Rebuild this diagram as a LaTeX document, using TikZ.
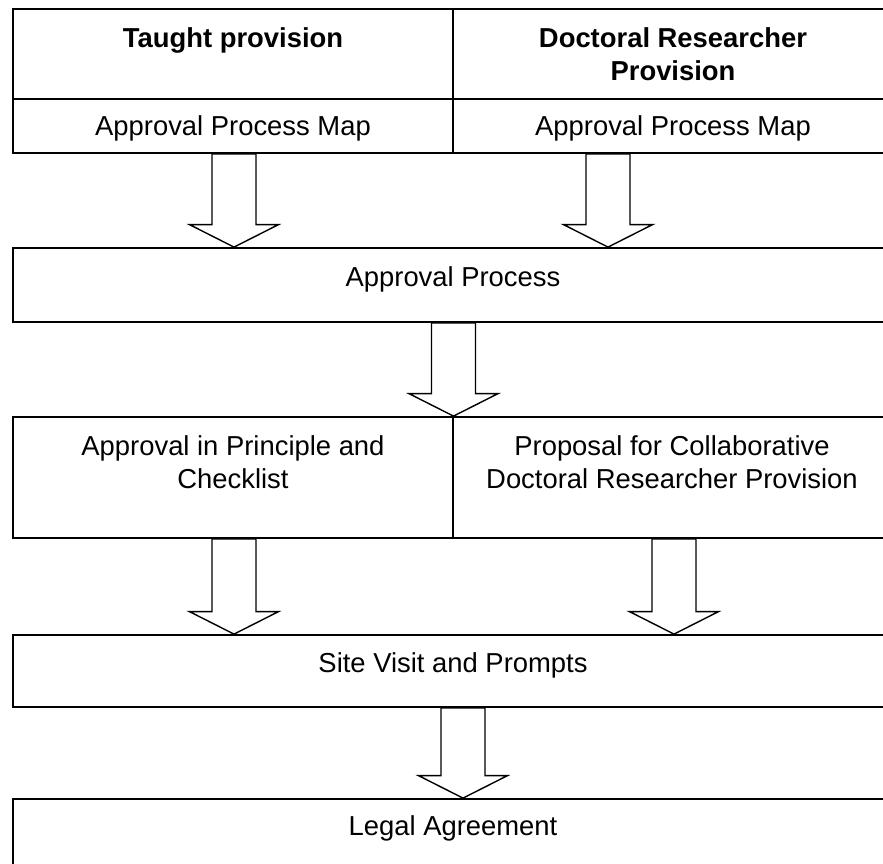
\documentclass[tikz,border=0pt]{standalone}
\usepackage{fontspec}
\setmainfont{Liberation Sans}
\usetikzlibrary{calc, positioning}

% hohler Blockpfeil von #1 (Schaft oben) bis #2 (Spitze)
\newcommand{\blockarrow}[2]{%
  \draw[blockarrow] let \p1=#1, \p2=#2 in
    (\x1-22pt,\y1) -- (\x1-22pt,\y2+22.5pt) -- (\x1-44.5pt,\y2+22.5pt) -- (\x1,\y2)
    -- (\x1+44.5pt,\y2+22.5pt) -- (\x1+22pt,\y2+22.5pt) -- (\x1+22pt,\y1) -- cycle;}

\begin{document}
\begin{tikzpicture}[
    x=1pt, y=-1pt,               % Pixelkoordinaten, y nach unten
    cell/.style={draw, line width=1.8pt, inner sep=0pt, minimum width=440pt},
    wide/.style={cell, minimum width=880pt},
    txt/.style={anchor=base, align=center, inner sep=0pt, font=\fontsize{27.4pt}{33pt}\selectfont},
    head/.style={txt, font=\fontsize{27.4pt}{33pt}\selectfont\bfseries},
    blockarrow/.style={draw, fill=white, line width=1.4pt, line join=miter}
  ]
  \useasboundingbox (0,0) rectangle (883,863);
  \clip (0,0) rectangle (883,863);

  % Tabelle oben (Grundlinie = letzte Zeile)
  \node[cell, minimum height=90pt] (thead) at (233,54)  {};
  \node[cell, minimum height=90pt] (dhead) at (673,54)  {};
  \node[cell, minimum height=54pt] (tmap)  at (233,126) {};
  \node[cell, minimum height=54pt] (dmap)  at (673,126) {};
  \node[head] (theadTxt) at (233,47)  {Taught provision};
  \node[head] (dheadTxt) at (673,80)  {Doctoral Researcher\\Provision};
  \node[txt]  (tmapTxt)  at (233,135) {Approval Process Map};
  \node[txt]  (dmapTxt)  at (673,135) {Approval Process Map};

  % Ablauf
  \node[wide, minimum height=74pt]  (approval) at (453,285)   {};
  \node[txt] (approvalTxt) at (453,286) {Approval Process};

  \node[cell, minimum height=121pt] (aip)    at (233,477.5) {};
  \node[cell, minimum height=121pt] (propdr) at (673,477.5) {};
  \node[txt] (aipTxt)    at (233,488) {Approval in Principle and\\Checklist};
  \node[txt] (propdrTxt) at (672,488) {Proposal for Collaborative\\Doctoral Researcher Provision};

  \node[wide, minimum height=72pt]  (site)  at (453,671) {};
  \node[txt] (siteTxt)  at (453,672) {Site Visit and Prompts};

  \node[wide, minimum height=72pt]  (legal) at (453,835) {};
  \node[txt] (legalTxt) at (453,835) {Legal Agreement};

  % Blockpfeile
  \blockarrow{([xshift=1pt]tmap.south)}{(approval.north)}
  \blockarrow{([xshift=-65pt]dmap.south)}{(approval.north)}
  \blockarrow{([xshift=0.5pt]approval.south)}{(aip.north)}
  \blockarrow{([xshift=1pt]aip.south)}{(site.north)}
  \blockarrow{([xshift=1pt]propdr.south)}{(site.north)}
  \blockarrow{([xshift=10pt]site.south)}{(legal.north)}

\end{tikzpicture}
\end{document}
